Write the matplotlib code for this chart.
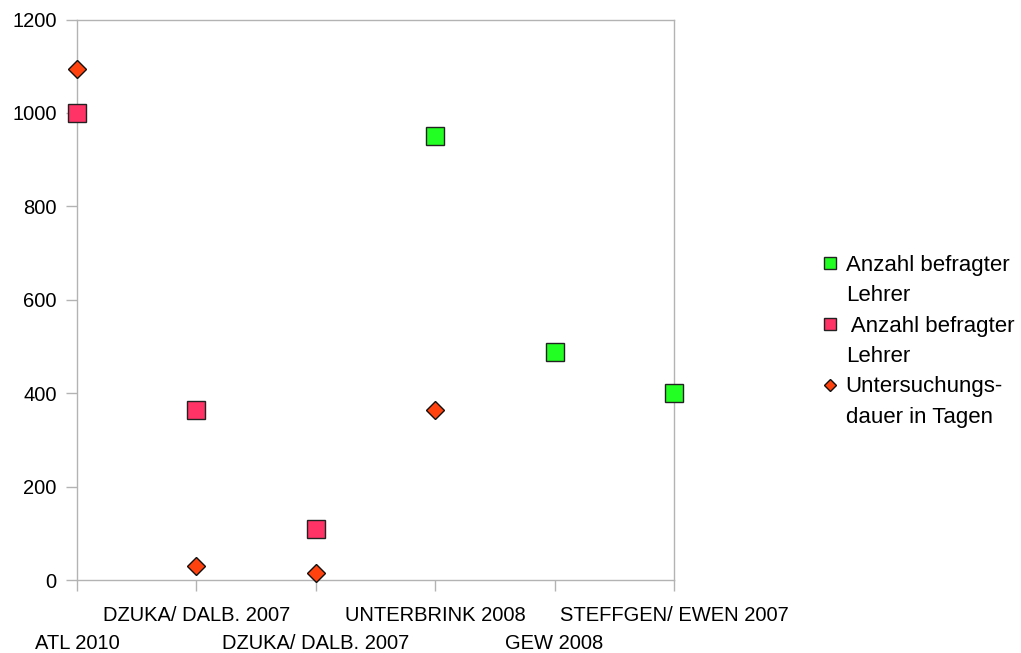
import matplotlib
matplotlib.use("Agg")
import matplotlib.pyplot as plt
from matplotlib.lines import Line2D

plt.rcParams['font.family'] = ['Liberation Sans', 'DejaVu Sans']

studies = ["ATL 2010", "DZUKA/ DALB. 2007", "DZUKA/ DALB. 2007",
           "UNTERBRINK 2008", "GEW 2008", "STEFFGEN/ EWEN 2007"]
# Number of surveyed teachers (two series) and study duration in days
teachers_green = [None, None, None, 950, 488, 400]
teachers_pink = [1000, 364, 109, None, None, None]
duration_days = [1095, 31, 15, 365, None, None]

green = "#22ff22"
pink = "#ff3366"
orange = "#ff420e"
frame = "#b3b3b3"

fig = plt.figure(figsize=(10.21, 6.53), dpi=100)
ax = fig.add_axes([77 / 1021, 1 - 580 / 653, (674 - 77) / 1021, (580 - 19.5) / 653])

x = list(range(len(studies)))

def pts(vals):
    xs = [i for i, v in zip(x, vals) if v is not None]
    ys = [v for v in vals if v is not None]
    return xs, ys

gx, gy = pts(teachers_green)
px, py = pts(teachers_pink)
dx, dy = pts(duration_days)

ax.plot(gx, gy, linestyle="none", marker="s", markersize=13.5, markerfacecolor=green,
        markeredgecolor="#222222", markeredgewidth=1.0, clip_on=False, zorder=3)
ax.plot(px, py, linestyle="none", marker="s", markersize=13.5, markerfacecolor=pink,
        markeredgecolor="#222222", markeredgewidth=1.0, clip_on=False, zorder=3)
ax.plot(dx, dy, linestyle="none", marker="D", markersize=9.5, markerfacecolor=orange,
        markeredgecolor="#111111", markeredgewidth=1.0, clip_on=False, zorder=4)

ax.set_xlim(0, len(studies) - 1)
ax.set_ylim(0, 1200)
ax.set_yticks(range(0, 1201, 200))

# Category labels alternate between two rows: odd positions on top, even below
upper = [i for i in x if i % 2 == 1]
lower = [i for i in x if i % 2 == 0]
ax.set_xticks(upper)
ax.set_xticklabels([studies[i] for i in upper])
ax.set_xticks(lower, minor=True)
ax.set_xticklabels([studies[i] for i in lower], minor=True)

for sp in ax.spines.values():
    sp.set_color(frame)
    sp.set_linewidth(1.0)
ax.tick_params(axis="both", which="both", direction="out", length=8, width=1.0,
               color=frame, labelsize=14.5, labelcolor="black")
ax.tick_params(axis="y", pad=6.5)
ax.tick_params(axis="x", which="major", pad=11)
ax.tick_params(axis="x", which="minor", pad=31)

legend_fs = 16
handles = [
    Line2D([], [], linestyle="none", marker="s", markersize=8, markerfacecolor=green,
           markeredgecolor="#222222", markeredgewidth=1.0),
    Line2D([], [], linestyle="none", marker=None),
    Line2D([], [], linestyle="none", marker="s", markersize=8, markerfacecolor=pink,
           markeredgecolor="#222222", markeredgewidth=1.0),
    Line2D([], [], linestyle="none", marker=None),
    Line2D([], [], linestyle="none", marker="D", markersize=6.5, markerfacecolor=orange,
           markeredgecolor="#111111", markeredgewidth=1.0),
    Line2D([], [], linestyle="none", marker=None),
]
names = ["Anzahl befragter", "Lehrer", " Anzahl befragter", "Lehrer",
         "Untersuchungs-", "dauer in Tagen"]
leg = fig.legend(handles, names, loc="upper left",
                 bbox_to_anchor=(821 / 1021, 1 - 255 / 653),
                 frameon=False, fontsize=legend_fs, handlelength=0.78,
                 handletextpad=0.33, labelspacing=0.42, borderpad=0, borderaxespad=0)

fig.savefig("out.png", dpi=100)
